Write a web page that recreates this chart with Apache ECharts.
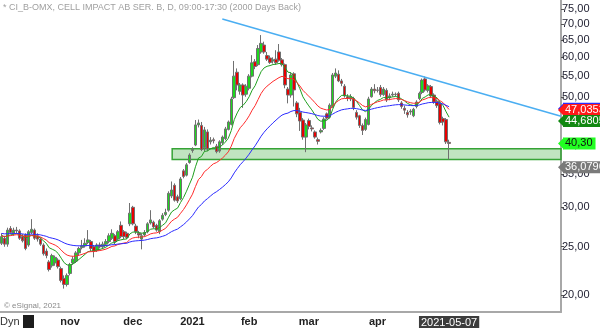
<!DOCTYPE html>
<html><head><meta charset="utf-8">
<script src="https://cdn.jsdelivr.net/npm/echarts@6/dist/echarts.min.js"></script>
<style>html,body{margin:0;padding:0;background:#fff}#c{width:600px;height:328px}</style>
</head><body><div id="c"></div>
<script>
// ---- data ----
const startDate = '2020-09-30';
const endDate = '2021-05-07';
const holidays = ['2020-12-24','2020-12-25','2020-12-31','2021-01-01','2021-01-06','2021-04-02','2021-04-05'];
const opens = [25.4,26.0,25.3,27.2,26.6,27.0,26.9,26.2,26.4,25.2,26.7,27.0,26.3,25.9,25.2,24.5,23.3,22.9,23.2,23.5,
22.6,21.6,21.0,22.1,23.2,23.4,24.3,24.9,25.1,25.5,25.6,25.0,24.6,25.2,25.0,25.3,25.6,26.0,26.3,25.9,
27.6,26.8,26.6,27.8,30.0,27.5,26.6,25.9,26.4,26.8,27.9,28.0,27.6,26.8,28.4,29.0,29.6,31.6,33.2,31.5,
31.2,35.5,34.8,36.9,39.0,40.0,43.9,43.8,39.5,42.5,40.6,41.0,39.8,38.9,40.4,41.2,43.0,44.0,49.8,56.0,
51.3,52.8,50.6,52.0,55.0,58.8,58.0,61.5,63.5,60.5,59.8,59.0,59.5,61.5,59.3,58.0,51.8,50.4,55.6,48.6,
46.5,44.9,41.5,44.8,43.3,42.5,41.0,42.5,43.2,46.2,45.5,47.8,55.0,55.5,53.8,52.5,50.0,49.5,49.6,46.5,
45.8,43.8,43.0,44.0,50.0,51.8,51.6,52.2,50.5,51.5,49.8,50.4,50.6,50.8,48.6,47.4,46.5,46.6,45.8,47.8,
49.6,51.0,54.3,51.5,52.4,50.4,49.0,48.4,45.2,45.0,40.5];
const closes = [26.2,25.3,27.0,26.7,27.0,26.9,26.0,25.7,24.8,26.8,27.1,26.0,25.9,25.3,24.2,24.0,22.5,24.0,23.8,22.8,
21.4,21.0,21.9,23.0,23.6,24.3,24.8,25.1,25.4,25.8,24.8,24.5,25.2,25.0,25.3,25.6,26.3,26.6,25.6,26.8,
26.2,26.2,26.1,29.2,27.8,26.8,26.4,26.3,26.7,27.8,28.3,27.4,27.0,28.2,28.9,29.3,32.0,32.5,31.0,30.9,
34.2,34.6,36.5,38.2,39.3,43.9,44.3,39.2,42.9,39.3,40.9,40.8,38.8,40.6,41.5,43.1,44.5,49.5,55.0,52.8,
52.8,50.4,52.5,55.0,58.5,57.5,62.5,64.0,61.5,59.5,58.6,59.3,58.5,59.2,58.0,52.8,50.4,55.3,51.6,46.2,
44.7,41.5,43.9,43.6,43.1,41.5,40.7,42.8,45.1,45.3,48.1,55.3,55.8,53.8,53.2,50.2,49.6,50.0,47.6,45.5,
43.8,42.8,45.0,49.5,51.8,51.4,51.5,50.5,51.8,49.3,50.2,50.6,50.5,49.3,47.8,47.0,46.0,46.8,47.2,48.8,
50.8,54.0,51.6,52.6,50.2,48.8,48.0,44.4,44.5,40.6,40.3];
const lows = [25.2,25.0,25.0,26.5,26.3,26.6,25.8,25.5,24.6,25.0,26.5,25.8,25.6,25.1,24.0,23.7,22.3,22.7,22.9,22.6,
21.2,20.6,20.8,21.9,23.0,23.2,24.0,24.7,24.9,25.3,24.5,23.8,24.4,24.8,24.8,25.1,25.4,25.8,25.3,25.7,
26.0,25.9,25.9,27.5,27.6,26.5,26.0,24.7,26.2,26.6,27.7,27.2,26.8,26.5,28.2,28.8,29.4,31.3,30.8,30.6,
31.0,34.3,34.6,36.7,38.6,39.8,43.4,38.9,38.8,38.9,40.1,40.3,38.5,38.6,40.0,40.9,42.8,43.8,49.5,51.5,
50.5,47.5,50.0,51.5,54.7,56.8,57.6,61.0,61.0,59.0,58.2,58.3,58.0,58.8,57.5,52.0,48.5,49.8,47.8,45.5,
42.7,41.0,38.7,43.0,42.6,41.2,40.1,42.2,42.9,45.0,45.2,47.5,54.5,53.5,52.5,49.8,49.0,49.0,47.0,45.0,
43.3,41.9,42.7,43.8,49.8,50.8,51.0,50.0,50.2,48.8,49.2,50.0,50.1,48.8,47.3,46.2,45.4,46.0,45.5,47.4,
49.2,50.6,51.2,51.0,49.8,48.4,47.5,44.0,43.8,40.2,37.4];
const highs = [26.6,26.3,27.3,27.5,27.3,27.4,27.1,26.5,26.6,27.0,28.4,27.2,26.6,26.1,25.4,24.8,23.5,24.2,24.0,23.7,
22.8,21.9,22.1,23.2,23.9,24.5,25.0,25.8,26.0,27.0,25.8,25.2,25.4,25.5,25.6,25.9,26.6,27.1,26.5,27.0,
28.1,27.0,26.8,30.6,30.2,27.8,26.9,26.6,27.0,28.0,29.6,28.2,27.8,28.4,29.2,29.8,32.3,33.8,33.5,31.8,
34.5,35.8,36.8,38.5,39.6,44.9,45.0,44.5,43.5,43.0,41.5,41.4,40.2,40.9,41.8,43.5,44.8,50.0,59.0,57.0,
53.3,53.2,53.0,55.5,60.6,59.5,63.5,66.5,64.5,61.5,60.5,60.0,62.0,63.8,59.8,58.3,52.3,55.8,56.0,49.0,
47.5,45.3,44.3,45.2,43.8,42.8,41.4,43.2,45.5,46.5,48.5,55.8,57.0,56.5,54.3,53.0,50.6,50.6,50.0,47.0,
46.0,44.2,45.4,50.0,52.3,53.0,52.3,52.8,52.3,52.0,50.8,51.2,51.0,51.2,49.0,48.0,47.0,47.2,47.5,49.2,
51.2,54.4,54.9,53.0,52.8,50.8,49.4,48.8,45.6,45.3,41.0];
const maPeriods = [10, 20, 50];
const maStartValues = [26.4, 26.3, 26.6];
const yTicks = [20,25,30,35,40,45,50,55,60,65,70,75];
const monthLabels = {'2020-11':'nov','2020-12':'dec','2021-01':'2021','2021-02':'feb','2021-03':'mar','2021-04':'apr'};
const lastDateLabel = '2021-05-07';
const tagValues = [47.28, 47.0353, 44.6805, 40.30, 36.0796];
const tagDecimals = [4, 4, 4, 2, 4];
const trendLine = [[74, 71.6], [187.5, 45.7]];
const supportZone = [[57.2, 39.3], [187.5, 37.4]];
const emptySlots = 37;

// ---- build ----
function tradingDays(){
  const out=[]; const d=new Date(startDate+'T12:00:00Z'); const end=new Date(endDate+'T12:00:00Z');
  while(d<=end){ const s=d.toISOString().slice(0,10); const wd=d.getUTCDay();
    if(wd!==0&&wd!==6&&holidays.indexOf(s)<0) out.push(s); d.setUTCDate(d.getUTCDate()+1);} return out;
}
const dates = tradingDays();
const n = closes.length;
const cats = dates.slice(0,n).concat(new Array(emptySlots).fill(''));
const labelIdx = {};
for(let i=1;i<n;i++){ const m=dates[i].slice(0,7); if(m!==dates[i-1].slice(0,7) && monthLabels[m]) labelIdx[i]=monthLabels[m]; }
labelIdx[n-1] = '{last|'+lastDateLabel+'}';
const candles = closes.map((c,i)=>[opens[i],c,lows[i],highs[i]]);
function ema(period, start){ const k=2/(period+1); let e=start; return closes.map(c=>{ e=e+k*(c-e); return +e.toFixed(4); }); }
const maColors = ['#1f9f1f','#ff2b2b','#2b2bff'];
const tagBg = ['#2b2bff','#ff1a1a','#118811','#22ff22','#7a7a7a'];
const tagFg = ['#ffffff','#ffffff','#ffffff','#111111','#ffffff'];
const FONT = 'Liberation Sans';
const xEnd = trendLine[1][0];

const chart = echarts.init(document.getElementById('c'), null, {renderer:'canvas'});
const option = {
  animation:false,
  grid:{left:0,right:39,top:0,bottom:16},
  xAxis:[{
    type:'category', data:cats, boundaryGap:true,
    axisLine:{onZero:false, lineStyle:{color:'#a8a8a8',width:2}},
    axisTick:{alignWithLabel:true, interval:(i)=>labelIdx[i]!==undefined, length:3, lineStyle:{color:'#555'}},
    axisLabel:{interval:(i)=>labelIdx[i]!==undefined, formatter:(v,i)=>labelIdx[i]||'', margin:4,
      fontFamily:FONT, fontSize:11, fontWeight:'bold', color:'#222',
      rich:{last:{backgroundColor:'#3d3d3d', color:'#fff', padding:[1,2,0,2], fontWeight:'normal', fontSize:11, fontFamily:FONT}}},
    splitLine:{show:false}
  },{type:'value', min:-0.5, max:187.5, show:false}],
  yAxis:{type:'log', position:'right', min:18.49, max:78.2,
    axisLine:{show:true, onZero:false, lineStyle:{color:'#a8a8a8', width:2}},
    axisTick:{show:true, customValues:yTicks, length:3, lineStyle:{color:'#555'}},
    axisLabel:{customValues:yTicks, formatter:v=>v.toFixed(2).replace('.',','), margin:1,
      fontSize:11, color:'#222233', fontFamily:FONT},
    splitLine:{show:false}},
  graphic:[
    {type:'text', left:3, top:3, style:{text:'* CI_B-OMX, CELL IMPACT AB SER. B, D, 09:00-17:30 (2000 Days Back)', fill:'#a0a0a0', font:'9px "Liberation Sans"'}},
    {type:'text', left:4, top:302, style:{text:'© eSignal, 2021', fill:'#8a8a8a', font:'8px "Liberation Sans"'}},
    {type:'text', left:0, top:316, style:{text:'Dyn', fill:'#333', font:'11px "Liberation Sans"'}},
    {type:'rect', shape:{x:23,y:315,width:11,height:13}, style:{fill:'#1c1c1c'}}
  ],
  series:[
    {type:'line', xAxisIndex:1, data:[], z:1, silent:true,
      markArea:{silent:true, itemStyle:{color:'rgba(80,180,80,0.36)', borderColor:'#36a336', borderWidth:1.5},
        data:[[{coord:supportZone[0]},{coord:supportZone[1]}]]}},
    {type:'candlestick', data:candles, barWidth:3, z:2,
      itemStyle:{color:'#1ed81e', color0:'#e80000', borderColor:'#707070', borderColor0:'#707070', borderWidth:1}},
  ].concat(maPeriods.map((p,k)=>({type:'line', data:ema(p, maStartValues[k]), showSymbol:false, z:3,
      lineStyle:{color:maColors[k], width:1}, silent:true}))).concat([
    {type:'line', xAxisIndex:1, data:trendLine, showSymbol:false, z:4, silent:true,
      lineStyle:{color:'#4aaef2', width:1.5}},
    {type:'line', xAxisIndex:1, data:[], z:10, silent:true, clip:false,
      markLine:{silent:true, clip:false, animation:false, symbol:['none','path://M0,0 L10,0 L5,10 Z'], symbolSize:[12,6],
        data:tagValues.map((v,i)=>[
          {coord:[xEnd-0.01, v], lineStyle:{color:tagBg[i], width:1},
            label:{show:true, position:'end', distance:2, formatter:v.toFixed(tagDecimals[i]).replace('.',','),
              backgroundColor:tagBg[i], color:tagFg[i], padding:[1,3,0,2], fontSize:11, fontFamily:FONT}},
          {coord:[xEnd, v]}])}}
  ])
};
chart.setOption(option);
</script></body></html>
